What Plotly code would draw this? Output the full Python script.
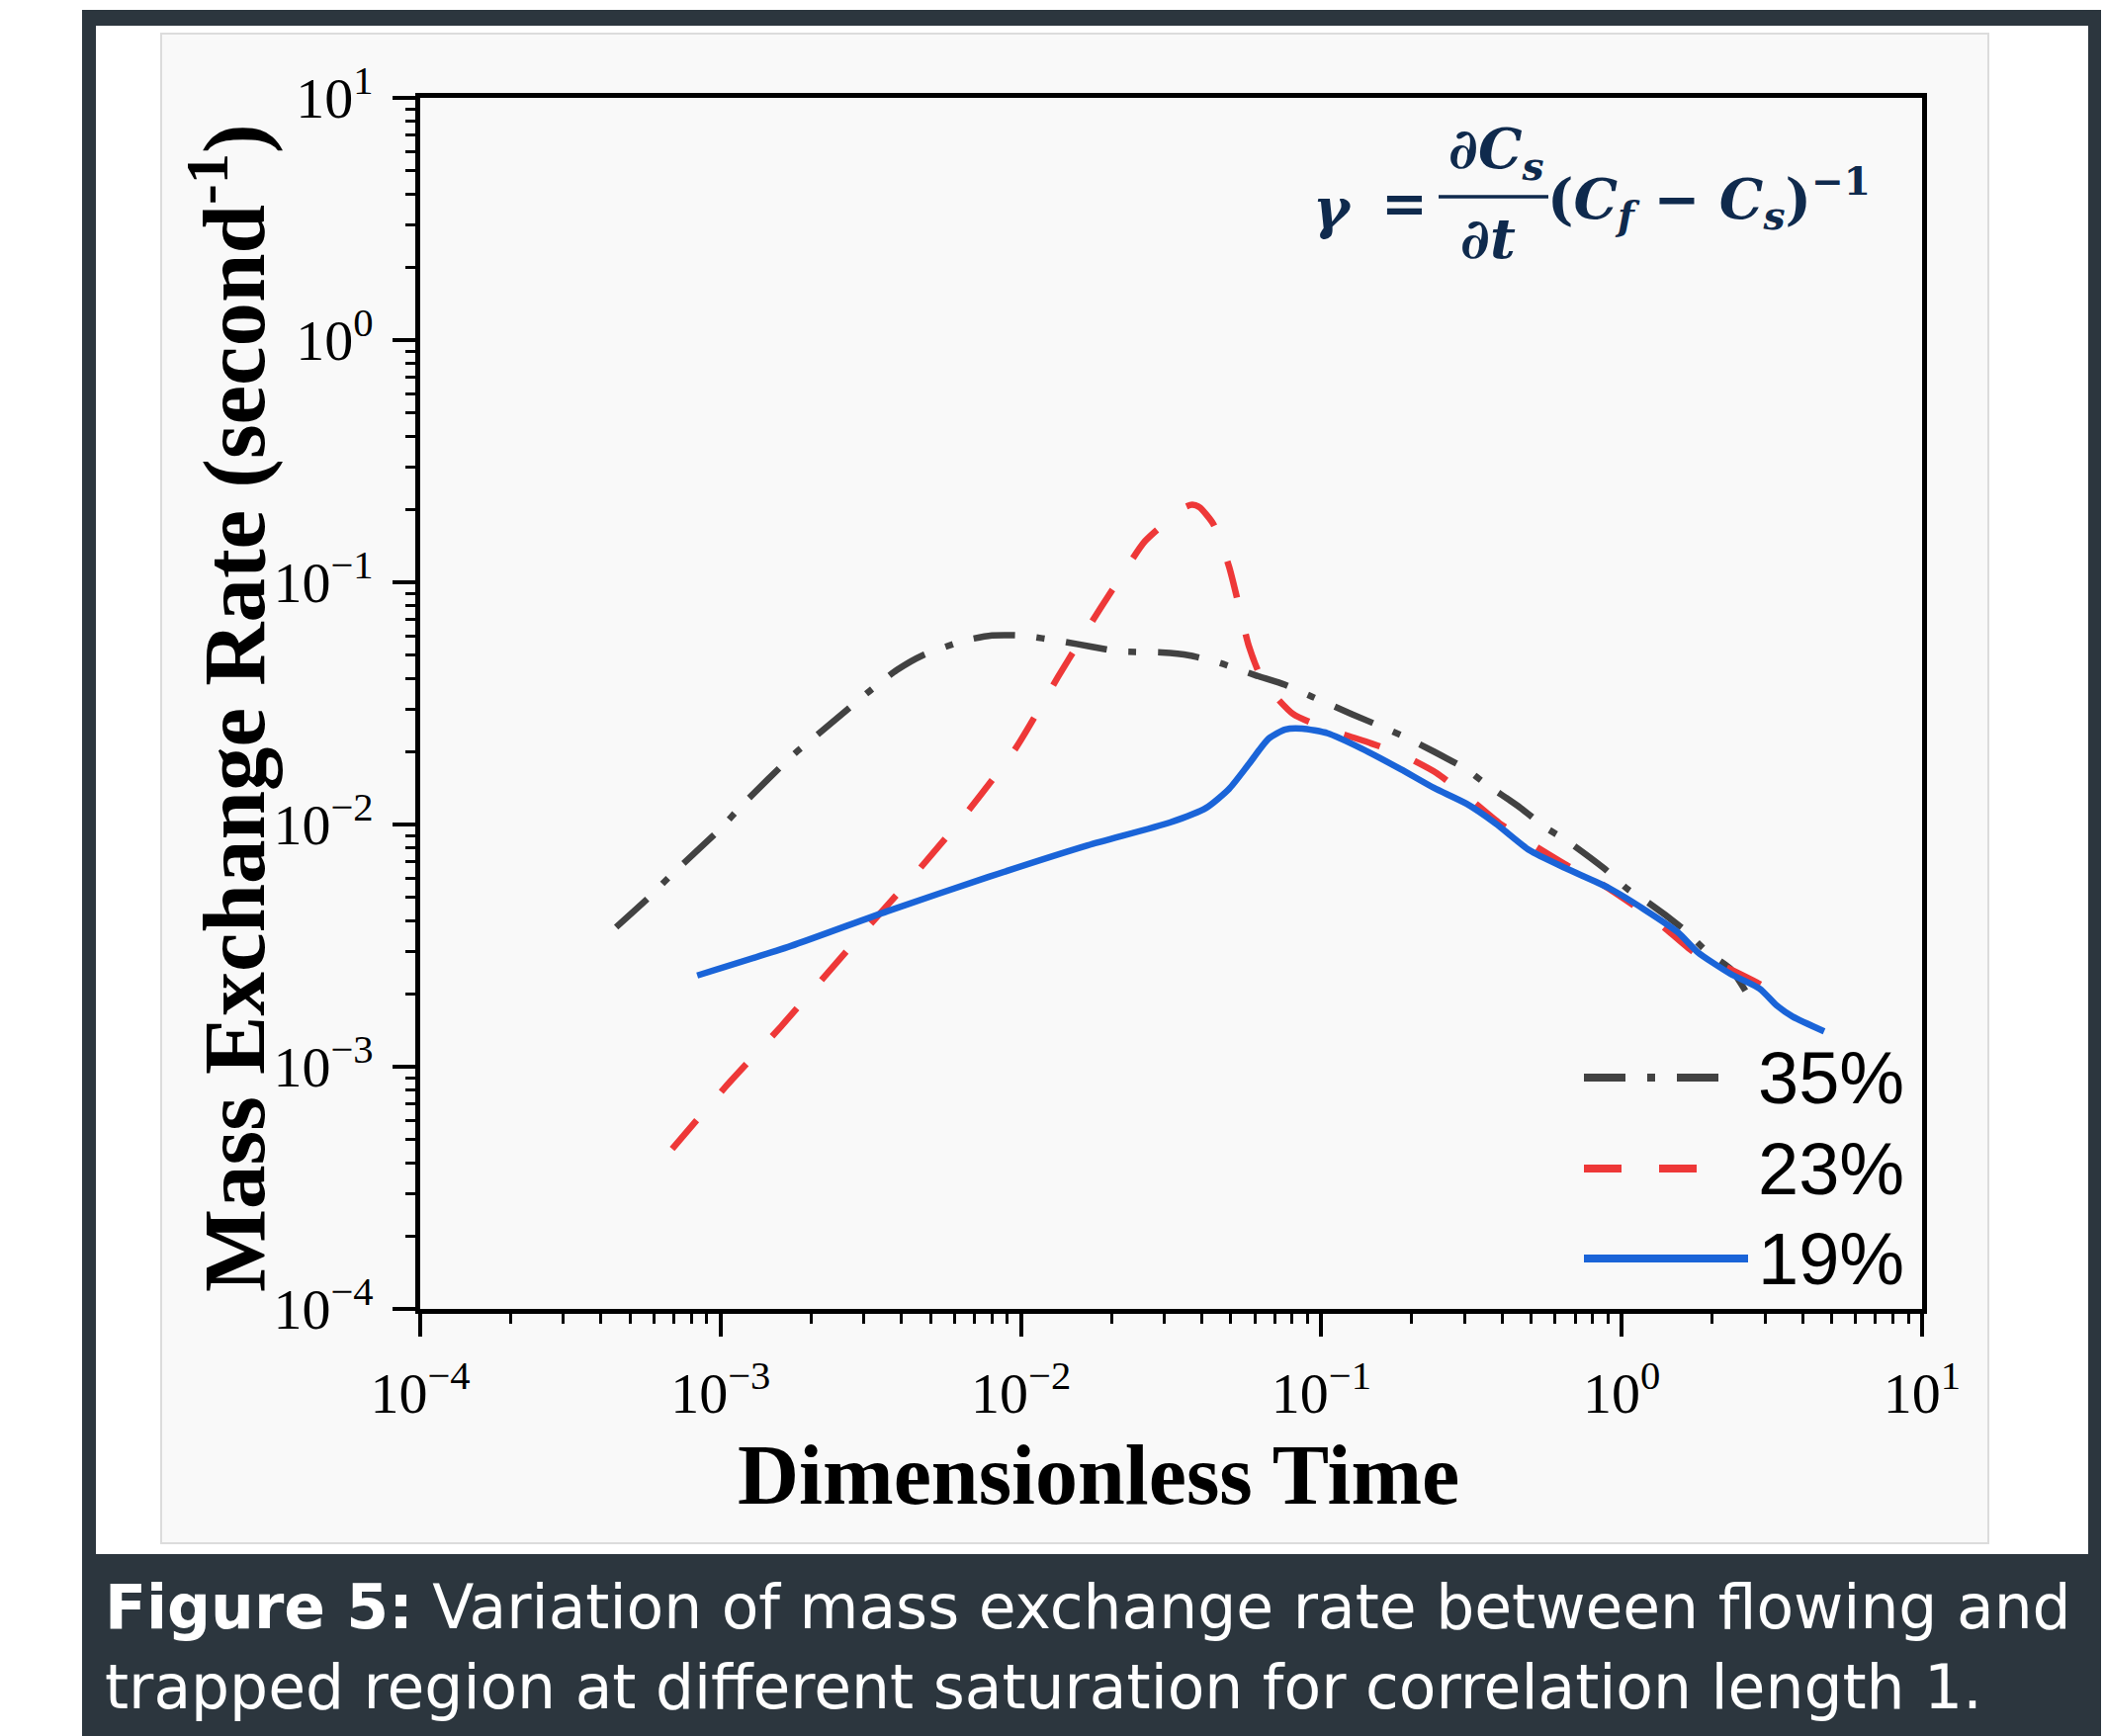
import plotly.graph_objects as go

# ---------------- data ----------------
T35 = [4.49e-4, 5.81e-4, 6.75e-4, 1.009e-3, 1.175e-3, 1.754e-3, 2.104e-3, 3.19e-3, 3.86e-3,
       4.70e-3, 6.46e-3, 8.00e-3, 1.002e-2, 1.380e-2, 1.706e-2, 2.143e-2, 2.94e-2, 3.64e-2,
       4.53e-2, 6.04e-2, 7.59e-2, 9.31e-2, 0.126, 0.158, 0.188, 0.237, 0.304, 0.353, 0.461,
       0.557, 0.668, 0.871, 1.052, 1.225, 1.61, 1.93, 2.30, 2.58]
R35 = [3.77e-3, 5.04e-3, 6.08e-3, 9.73e-3, 1.197e-2, 1.95e-2, 2.35e-2, 3.62e-2, 4.34e-2,
       4.99e-2, 5.74e-2, 6.03e-2, 6.03e-2, 5.69e-2, 5.43e-2, 5.18e-2, 5.13e-2, 4.99e-2,
       4.67e-2, 4.13e-2, 3.77e-2, 3.37e-2, 2.86e-2, 2.54e-2, 2.31e-2, 2.00e-2, 1.69e-2,
       1.47e-2, 1.17e-2, 9.73e-3, 8.45e-3, 6.61e-3, 5.38e-3, 4.76e-3, 3.69e-3, 2.97e-3,
       2.54e-3, 2.06e-3]

T23 = [6.90e-4, 1.033e-3, 1.592e-3, 1.879e-3, 2.85e-3, 4.36e-3, 6.56e-3, 9.59e-3, 1.327e-2,
       1.581e-2, 1.841e-2, 2.21e-2, 2.59e-2, 3.51e-2, 3.72e-2, 3.93e-2, 4.37e-2, 4.93e-2,
       5.31e-2, 5.73e-2, 6.37e-2, 8.05e-2, 0.104, 0.147, 0.184, 0.242, 0.304, 0.393, 0.498,
       0.673, 0.845, 1.321, 1.738, 2.18, 2.95, 3.62]
R23 = [4.58e-4, 8.20e-4, 1.469e-3, 1.858e-3, 3.37e-3, 6.08e-3, 1.109e-2, 2.06e-2, 4.06e-2,
       5.79e-2, 7.83e-2, 0.111, 0.148, 0.204, 0.209, 0.204, 0.174, 0.116, 8.05e-2, 5.48e-2,
       3.94e-2, 2.86e-2, 2.49e-2, 2.16e-2, 1.95e-2, 1.63e-2, 1.312e-2, 1.009e-2, 8.36e-3,
       6.67e-3, 5.74e-3, 3.94e-3, 2.97e-3, 2.61e-3, 2.16e-3, 1.81e-3]

T19 = [8.36e-4, 1.714e-3, 3.58e-3, 7.82e-3, 1.667e-2, 3.13e-2, 4.14e-2, 4.93e-2, 5.73e-2,
       6.67e-2, 7.59e-2, 8.63e-2, 0.105, 0.136, 0.184, 0.237, 0.304, 0.381, 0.493, 0.649,
       0.904, 1.189, 1.538, 1.791, 2.30, 2.88, 3.28, 3.71, 4.72]
R19 = [2.38e-3, 3.15e-3, 4.38e-3, 6.08e-3, 8.20e-3, 1.019e-2, 1.172e-2, 1.403e-2, 1.774e-2,
       2.26e-2, 2.47e-2, 2.49e-2, 2.38e-2, 2.06e-2, 1.69e-2, 1.416e-2, 1.219e-2, 1.009e-2,
       7.83e-3, 6.61e-3, 5.48e-3, 4.46e-3, 3.59e-3, 2.97e-3, 2.42e-3, 2.10e-3, 1.79e-3,
       1.61e-3, 1.40e-3]

SERIES_NAMES = ["35%", "23%", "19%"]
TICK_VALUES = [1e-4, 1e-3, 1e-2, 1e-1, 1e0, 1e1]
TICK_LABELS = ["10<sup>\u22124</sup>", "10<sup>\u22123</sup>", "10<sup>\u22122</sup>",
               "10<sup>\u22121</sup>", "10<sup>0</sup>", "10<sup>1</sup>"]
X_TITLE = "Dimensionless Time"
Y_TITLE = "Mass Exchange Rate (second<sup>-1</sup>)"
CAPTION_1 = "<b>Figure 5:</b> Variation of mass exchange rate between flowing and"
CAPTION_2 = "trapped region at different saturation for correlation length 1."

# ---------------- layout geometry / styles ----------------
W, H = 2129, 1756
PL, PR, PT, PB = 425, 1944, 99, 1324
COLORS = ["#424242", "#ee3838", "#1a64d8"]
DASHES = ["42px,22px,8px,22px", "38px,38px", "solid"]
LW = 6.5
DARK = "#2c363e"
NAVY = "#0f2a4d"


def px(X):
    return (X - PL) / (PR - PL)


def py(Y):
    return (PB - Y) / (PB - PT)


minor_vals = [m * 10.0 ** e for e in range(-4, 1) for m in range(2, 10)]

fig = go.Figure()
for t, r, name, c, d in zip([T35, T23, T19], [R35, R23, R19], SERIES_NAMES, COLORS, DASHES):
    fig.add_trace(go.Scatter(x=t, y=r, mode="lines", name=name, showlegend=False,
                             line=dict(color=c, width=LW, dash=d, shape="spline", smoothing=0.6)))

axis_common = dict(
    type="log", range=[-4, 1], showgrid=False, zeroline=False,
    showline=True, linecolor="black", linewidth=4.5, mirror=True,
    ticks="outside", ticklen=23, tickwidth=4, tickcolor="black",
    tickmode="array", tickvals=TICK_VALUES, ticktext=TICK_LABELS,
    tickfont=dict(family="Liberation Serif", size=58, color="black"),
    minor=dict(tickmode="array", tickvals=minor_vals, ticks="outside", ticklen=10,
               tickwidth=3, tickcolor="black", showgrid=False),
    automargin=False,
)

fig.update_layout(
    width=W, height=H,
    margin=dict(l=PL, r=W - PR, t=PT, b=H - PB, pad=0),
    paper_bgcolor="white", plot_bgcolor="rgba(0,0,0,0)",
    xaxis=dict(**axis_common, ticklabelstandoff=8),
    yaxis=dict(**axis_common, ticklabelstandoff=8),
    showlegend=False,
)

shapes = []
# outer dark frame, white card, light figure panel
shapes.append(dict(type="rect", xref="paper", yref="paper", x0=px(83), x1=px(2125),
                   y0=py(H), y1=py(10), fillcolor=DARK, line=dict(width=0), layer="below"))
shapes.append(dict(type="rect", xref="paper", yref="paper", x0=px(97), x1=px(2112),
                   y0=py(1572), y1=py(26), fillcolor="white", line=dict(width=0), layer="below"))
shapes.append(dict(type="rect", xref="paper", yref="paper", x0=px(163), x1=px(2011),
                   y0=py(1561), y1=py(34), fillcolor="#f9f9f9",
                   line=dict(width=2, color="#dcdcdc"), layer="below"))

# legend samples
leg_rows = [(1090, 1752), (1182, 1723), (1273, 1768)]
for (yy, xend), c, d in zip(leg_rows, COLORS, DASHES):
    shapes.append(dict(type="line", xref="paper", yref="paper", x0=px(1602), x1=px(xend),
                       y0=py(yy), y1=py(yy), line=dict(color=c, width=LW + 1.5, dash=d)))

# equation fraction bar
shapes.append(dict(type="line", xref="paper", yref="paper", x0=px(1455), x1=px(1566),
                   y0=py(199), y1=py(199), line=dict(color=NAVY, width=3.5)))

annotations = []
for (yy, _), name in zip(leg_rows, SERIES_NAMES):
    annotations.append(dict(xref="paper", yref="paper", x=px(1928), y=py(yy),
                            xanchor="right", yanchor="middle", showarrow=False, text=name,
                            font=dict(family="Liberation Sans", size=74, color="black")))

# axis titles
annotations.append(dict(xref="paper", yref="paper", x=px(1111), y=py(1492), xanchor="center",
                        yanchor="middle", showarrow=False, text="<b>" + X_TITLE + "</b>",
                        font=dict(family="Liberation Serif", size=86, color="black")))
annotations.append(dict(xref="paper", yref="paper", x=px(230), y=py(716), xanchor="center",
                        yanchor="middle", showarrow=False, textangle=-90,
                        text="<b>" + Y_TITLE + "</b>",
                        font=dict(family="Liberation Serif", size=89, color="black")))

# equation
eq_font = dict(family="DejaVu Serif", size=56, color=NAVY)
annotations.append(dict(xref="paper", yref="paper", x=px(1348), y=py(210), xanchor="center",
                        yanchor="middle", showarrow=False, text="<b><i>\u03b3</i></b>", font=eq_font))
annotations.append(dict(xref="paper", yref="paper", x=px(1420), y=py(205), xanchor="center",
                        yanchor="middle", showarrow=False, text="<b>=</b>", font=eq_font))
annotations.append(dict(xref="paper", yref="paper", x=px(1513), y=py(154), xanchor="center",
                        yanchor="middle", showarrow=False,
                        text="<b><i>\u2202C<sub>s</sub></i></b>", font=eq_font))
annotations.append(dict(xref="paper", yref="paper", x=px(1505), y=py(241), xanchor="center",
                        yanchor="middle", showarrow=False, text="<b><i>\u2202t</i></b>", font=eq_font))
annotations.append(dict(xref="paper", yref="paper", x=px(1563), y=py(200), xanchor="left",
                        yanchor="middle", showarrow=False,
                        text="<b>(<i>C<sub>f</sub></i> \u2212 <i>C<sub>s</sub></i>)<sup>\u22121</sup></b>",
                        font=eq_font))

# caption
cap_font = dict(family="DejaVu Sans", size=61.5, color="white")
annotations.append(dict(xref="paper", yref="paper", x=px(104), y=py(1626), xanchor="left",
                        yanchor="middle", showarrow=False, text=CAPTION_1, font=cap_font))
annotations.append(dict(xref="paper", yref="paper", x=px(104), y=py(1707), xanchor="left",
                        yanchor="middle", showarrow=False, text=CAPTION_2, font=cap_font))

fig.update_layout(shapes=shapes, annotations=annotations)
fig.write_html("out.html")
